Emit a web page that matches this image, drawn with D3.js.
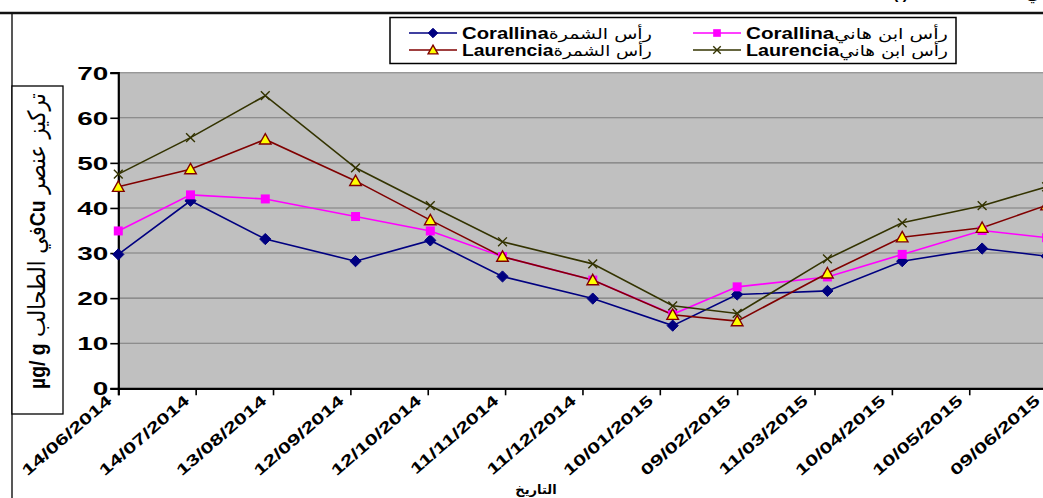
<!DOCTYPE html>
<html>
<head>
<meta charset="utf-8">
<script src="https://cdn.jsdelivr.net/npm/d3@7"></script>
<style>
  html, body { margin: 0; padding: 0; background: #fff; overflow: hidden; }
  svg { display: block; }
  text { font-family: "Liberation Sans", Arial, "DejaVu Sans", sans-serif; }
</style>
</head>
<body>
<svg id="chart" width="1043" height="498"></svg>
<script>
// Sampling dates (day/month/year)
const sampleDates = ["14/06/2014", "12/07/2014", "10/08/2014", "14/09/2014", "13/10/2014", "10/11/2014",
  "15/12/2014", "15/01/2015", "09/02/2015", "16/03/2015", "14/04/2015", "15/05/2015", "09/06/2015"];

// Date-axis ticks, every 30 days
const tickLabels = ["14/06/2014", "14/07/2014", "13/08/2014", "12/09/2014", "12/10/2014", "11/11/2014",
  "11/12/2014", "10/01/2015", "09/02/2015", "11/03/2015", "10/04/2015", "10/05/2015", "09/06/2015"];

const yTicks = [0, 10, 20, 30, 40, 50, 60, 70];

// Cu concentration (µg/g) per species and site
const corallinaShamra = [29.7, 41.6, 33.1, 28.2, 32.8, 24.8, 19.9, 13.9, 20.8, 21.6, 28.2, 31.0, 29.3];
const corallinaHani   = [34.9, 42.9, 42.0, 38.1, 34.9, 29.2, 24.0, 16.4, 22.5, 24.7, 29.7, 35.0, 33.4];
const laurenciaShamra = [44.7, 48.6, 55.2, 46.0, 37.3, 29.2, 24.0, 16.3, 14.9, 25.5, 33.5, 35.6, 40.6];
const laurenciaHani   = [47.5, 55.6, 64.9, 48.9, 40.5, 32.5, 27.6, 18.3, 16.6, 28.7, 36.7, 40.5, 44.7];

const genusNames = ["Corallina", "Corallina", "Laurencia", "Laurencia"];
const siteNames  = ["رأس الشمرة", "رأس ابن هاني", "رأس الشمرة", "رأس ابن هاني"];

const parseDate = d3.utcParse("%d/%m/%Y");

const series = [
  { values: corallinaShamra, color: "#000080", marker: "diamond" },
  { values: corallinaHani,   color: "#ff00ff", marker: "square" },
  { values: laurenciaShamra, color: "#800000", marker: "triangle" },
  { values: laurenciaHani,   color: "#333300", marker: "cross" }
].map((s, i) => ({ ...s, genus: genusNames[i], site: siteNames[i],
  points: s.values.map((v, j) => ({ date: parseDate(sampleDates[j]), value: v })) }));

const svg = d3.select("#chart");
const W = 1043, H = 498;

// plot frame
const plot = { left: 118.3, right: 1046.6, top: 72.7, bottom: 388.3 };

const x = d3.scaleUtc()
  .domain([parseDate(tickLabels[0]), parseDate(tickLabels[tickLabels.length - 1])])
  .range([plot.left, plot.right]);
const y = d3.scaleLinear().domain([0, 70]).range([plot.bottom, plot.top]);

// chart-area border (top and left)
svg.append("line").attr("x1", 0).attr("x2", W).attr("y1", 13).attr("y2", 13)
  .attr("stroke", "#111").attr("stroke-width", 2.4);
svg.append("line").attr("x1", 12).attr("x2", 12).attr("y1", 13).attr("y2", H)
  .attr("stroke", "#111").attr("stroke-width", 1.4);

// caption line above the chart, only its lower edge falls inside the frame
svg.append("text").attr("x", 893).attr("y", -1).attr("font-size", 16).attr("font-weight", "bold")
  .text("(     )");
svg.append("text").attr("x", 1026).attr("y", -1).attr("font-size", 16).attr("font-weight", "bold")
  .text("ي");

// plot background
svg.append("rect")
  .attr("x", plot.left).attr("y", plot.top)
  .attr("width", plot.right - plot.left + 10).attr("height", plot.bottom - plot.top)
  .attr("fill", "#c0c0c0");

// horizontal gridlines
svg.append("g").selectAll("line").data(yTicks.filter(d => d > 0)).join("line")
  .attr("x1", plot.left).attr("x2", plot.right + 10)
  .attr("y1", d => y(d)).attr("y2", d => y(d))
  .attr("stroke", "#7c7c7c").attr("stroke-width", 1.1);

// y axis
const yAxis = svg.append("g")
  .attr("transform", `translate(${plot.left},0)`)
  .call(d3.axisLeft(y).tickValues(yTicks).tickSize(8).tickFormat(d3.format("d")));
yAxis.select(".domain").attr("stroke", "#000").attr("stroke-width", 2.2);
yAxis.selectAll(".tick line").attr("stroke", "#000").attr("stroke-width", 1.6);
yAxis.selectAll(".tick text")
  .attr("x", 0).attr("dy", "0.35em")
  .attr("transform", "translate(-10,0) scale(1.55,1)")
  .attr("font-size", 18).attr("font-weight", "bold").attr("fill", "#000")
  .attr("font-family", "'Liberation Sans', Arial, sans-serif");

// x-axis title (drawn beneath the tick labels)
svg.append("text")
  .attr("x", 536).attr("y", 494)
  .attr("text-anchor", "middle")
  .attr("font-size", 13).attr("font-weight", "bold")
  .attr("font-family", "'DejaVu Sans', sans-serif")
  .text("التاريخ");

// x axis
const xAxis = svg.append("g")
  .attr("transform", `translate(0,${plot.bottom})`)
  .call(d3.axisBottom(x)
    .tickValues(tickLabels.map(parseDate))
    .tickSize(7)
    .tickFormat(d3.utcFormat("%d/%m/%Y")));
xAxis.select(".domain").attr("stroke", "#000").attr("stroke-width", 2.2);
xAxis.selectAll(".tick line").attr("stroke", "#000").attr("stroke-width", 1.6);
xAxis.selectAll(".tick text")
  .attr("x", 0).attr("y", 0).attr("dy", 0)
  .attr("text-anchor", "end")
  .attr("transform", "translate(-6,14) rotate(-41) scale(1.46,1)")
  .attr("font-size", 15.5).attr("font-weight", "bold").attr("fill", "#000")
  .attr("font-family", "'Liberation Sans', Arial, sans-serif");

// marker shapes
function drawMarker(g, type, color, k = 1) {
  if (type === "diamond") {
    const r = 5.6 * k;
    g.append("path").attr("d", `M0,${-r}L${r},0L0,${r}L${-r},0Z`)
      .attr("fill", color).attr("stroke", color).attr("stroke-width", 1);
  } else if (type === "square") {
    const s = 9 * k;
    g.append("rect").attr("x", -s / 2).attr("y", -s / 2).attr("width", s).attr("height", s)
      .attr("fill", color);
  } else if (type === "triangle") {
    const w = 5.8 * k, t = 5.8 * k, b = 4.6 * k;
    g.append("path").attr("d", `M0,${-t}L${w},${b}L${-w},${b}Z`)
      .attr("fill", "#ffff00").attr("stroke", color).attr("stroke-width", 1.4);
  } else {
    const r = 4.4 * k;
    g.append("path").attr("d", `M${-r},${-r}L${r},${r}M${-r},${r}L${r},${-r}`)
      .attr("fill", "none").attr("stroke", color).attr("stroke-width", 1.4);
  }
}

// series lines and markers
const line = d3.line().x(d => x(d.date)).y(d => y(d.value));
const seriesG = svg.append("g");
series.forEach(s => {
  seriesG.append("path").datum(s.points)
    .attr("d", line).attr("fill", "none")
    .attr("stroke", s.color).attr("stroke-width", 1.6);
});
series.forEach(s => {
  s.points.forEach(p => {
    const g = seriesG.append("g").attr("transform", `translate(${x(p.date)},${y(p.value)})`);
    drawMarker(g, s.marker, s.color);
  });
});

// stretch a text element along its baseline to a target width, keeping its anchor
function fitWidth(textSel, target, baseTransform) {
  const w = textSel.node().getBBox().width;
  const k = target / w;
  textSel.attr("transform", `${baseTransform} scale(${k},1)`);
}

// legend
const legend = svg.append("g");
legend.append("rect")
  .attr("x", 390).attr("y", 17.5).attr("width", 566).attr("height", 46)
  .attr("fill", "#fff").attr("stroke", "#000").attr("stroke-width", 1.5);

const legendCols = [{ lineX: 409, textX: 462, width: 190 }, { lineX: 693, textX: 746, width: 202 }];
const legendRows = [33, 50];
series.forEach((s, i) => {
  const col = legendCols[i % 2], rowY = legendRows[Math.floor(i / 2)];
  legend.append("line")
    .attr("x1", col.lineX).attr("x2", col.lineX + 48)
    .attr("y1", rowY).attr("y2", rowY)
    .attr("stroke", s.color).attr("stroke-width", 1.6);
  const mg = legend.append("g").attr("transform", `translate(${col.lineX + 24},${rowY})`);
  drawMarker(mg, s.marker, s.color, 0.85);
  const t = legend.append("text")
    .attr("x", 0).attr("y", 0)
    .attr("font-size", 16).attr("direction", "ltr");
  t.append("tspan").attr("font-weight", "bold")
    .attr("font-family", "'Liberation Sans', Arial, sans-serif").text(s.genus);
  t.append("tspan").attr("font-family", "'DejaVu Sans', sans-serif").attr("font-size", 15).text(s.site);
  fitWidth(t, col.width, `translate(${col.textX},${rowY + 5.5})`);
});

// y-axis title box
svg.append("rect")
  .attr("x", 12).attr("y", 86).attr("width", 51).attr("height", 328)
  .attr("fill", "#fff").attr("stroke", "#000").attr("stroke-width", 1.3);

const yTitle = svg.append("text")
  .attr("x", 0).attr("y", 0)
  .attr("text-anchor", "middle")
  .attr("direction", "rtl")
  .style("direction", "rtl")
  .attr("font-size", 24);
yTitle.append("tspan").attr("font-family", "'DejaVu Sans', sans-serif").text("تركيز عنصر ");
yTitle.append("tspan").attr("font-weight", "bold").attr("font-size", 22)
  .attr("font-family", "'Liberation Sans', Arial, sans-serif").text("Cu");
yTitle.append("tspan").attr("font-family", "'DejaVu Sans', sans-serif").text("في الطحالب ");
yTitle.append("tspan").attr("font-weight", "bold").attr("font-size", 22)
  .attr("font-family", "'Liberation Sans', Arial, sans-serif").text("µg/ g");
fitWidth(yTitle, 296, "translate(45,241) rotate(-90)");
</script>
</body>
</html>
